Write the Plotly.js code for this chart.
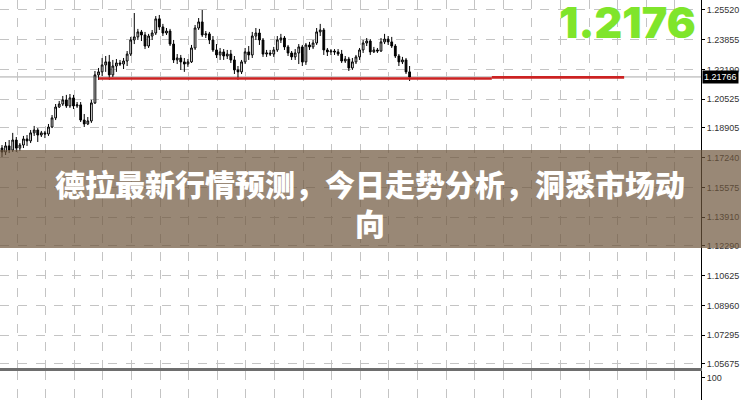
<!DOCTYPE html>
<html>
<head>
<meta charset="utf-8">
<script src="https://cdn.plot.ly/plotly-3.0.1.min.js"></script>
<style>html,body{margin:0;padding:0;background:#fff;}#chart{width:741px;height:400px;}</style>
</head>
<body>
<div id="chart"></div>
<script>
// ---- data ----
const open = [1.1778,1.1756,1.1790,1.1767,1.1823,1.1778,1.1795,1.1829,1.1818,1.1863,
1.1879,1.1851,1.1863,1.1857,1.1896,1.1947,1.2008,1.2025,1.2048,1.2014,
1.2059,1.2014,1.2020,1.1935,1.1913,1.1930,1.2031,1.2188,1.2205,1.2244,
1.2261,1.2188,1.2238,1.2255,1.2249,1.2266,1.2305,1.2384,1.2401,1.2429,
1.2412,1.2350,1.2406,1.2423,1.2502,1.2457,1.2423,1.2434,1.2361,1.2272,
1.2283,1.2261,1.2249,1.2261,1.2339,1.2451,1.2485,1.2412,1.2418,1.2384,
1.2328,1.2300,1.2317,1.2294,1.2305,1.2272,1.2216,1.2205,1.2261,1.2317,
1.2300,1.2406,1.2423,1.2384,1.2305,1.2311,1.2305,1.2328,1.2384,1.2395,
1.2345,1.2311,1.2289,1.2311,1.2345,1.2261,1.2356,1.2345,1.2367,1.2429,
1.2440,1.2328,1.2317,1.2322,1.2317,1.2305,1.2266,1.2277,1.2227,1.2261,
1.2289,1.2328,1.2367,1.2378,1.2317,1.2328,1.2322,1.2373,1.2389,1.2373,
1.2350,1.2294,1.2261,1.2272,1.2205];
const high = [1.1795,1.1812,1.1823,1.1863,1.1840,1.1806,1.1846,1.1851,1.1879,1.1902,
1.1890,1.1874,1.1874,1.1913,1.1963,1.2025,1.2042,1.2070,1.2076,1.2081,
1.2076,1.2036,1.2036,1.1969,1.1952,1.2048,1.2210,1.2227,1.2283,1.2294,
1.2300,1.2272,1.2277,1.2272,1.2283,1.2322,1.2401,1.2535,1.2446,1.2440,
1.2429,1.2418,1.2440,1.2518,1.2524,1.2474,1.2451,1.2446,1.2384,1.2305,
1.2300,1.2283,1.2277,1.2356,1.2468,1.2507,1.2552,1.2434,1.2429,1.2406,
1.2361,1.2339,1.2333,1.2328,1.2328,1.2294,1.2238,1.2272,1.2339,1.2350,
1.2429,1.2451,1.2446,1.2395,1.2328,1.2328,1.2345,1.2406,1.2418,1.2406,
1.2356,1.2322,1.2333,1.2361,1.2356,1.2367,1.2373,1.2384,1.2451,1.2474,
1.2451,1.2339,1.2333,1.2333,1.2333,1.2328,1.2294,1.2289,1.2283,1.2300,
1.2339,1.2384,1.2395,1.2389,1.2345,1.2339,1.2395,1.2418,1.2406,1.2401,
1.2361,1.2305,1.2289,1.2283,1.2238];
const low = [1.1728,1.1739,1.1750,1.1756,1.1756,1.1762,1.1778,1.1790,1.1806,1.1846,
1.1812,1.1840,1.1834,1.1846,1.1890,1.1935,1.2003,1.2014,1.2003,1.2003,
1.1997,1.2003,1.1924,1.1896,1.1907,1.1919,1.2025,1.2160,1.2182,1.2205,
1.2160,1.2176,1.2205,1.2238,1.2221,1.2238,1.2294,1.2361,1.2384,1.2378,
1.2333,1.2339,1.2384,1.2412,1.2440,1.2406,1.2412,1.2350,1.2255,1.2249,
1.2216,1.2205,1.2233,1.2255,1.2328,1.2440,1.2401,1.2395,1.2361,1.2317,
1.2283,1.2272,1.2272,1.2277,1.2255,1.2193,1.2160,1.2193,1.2249,1.2272,
1.2283,1.2384,1.2356,1.2289,1.2289,1.2294,1.2289,1.2317,1.2367,1.2328,
1.2294,1.2272,1.2272,1.2249,1.2238,1.2244,1.2328,1.2333,1.2356,1.2406,
1.2300,1.2294,1.2300,1.2300,1.2294,1.2255,1.2255,1.2210,1.2216,1.2249,
1.2272,1.2311,1.2350,1.2300,1.2311,1.2311,1.2317,1.2361,1.2356,1.2339,
1.2283,1.2238,1.2249,1.2193,1.2154];
const close = [1.1756,1.1790,1.1767,1.1823,1.1778,1.1795,1.1829,1.1818,1.1863,1.1879,
1.1851,1.1863,1.1857,1.1896,1.1947,1.2008,1.2025,1.2048,1.2014,1.2059,
1.2014,1.2020,1.1935,1.1913,1.1930,1.2031,1.2188,1.2205,1.2244,1.2261,
1.2188,1.2238,1.2255,1.2249,1.2266,1.2305,1.2384,1.2401,1.2429,1.2412,
1.2350,1.2406,1.2423,1.2502,1.2457,1.2423,1.2434,1.2361,1.2272,1.2283,
1.2261,1.2249,1.2261,1.2339,1.2451,1.2485,1.2412,1.2418,1.2384,1.2328,
1.2300,1.2317,1.2294,1.2305,1.2272,1.2216,1.2205,1.2261,1.2317,1.2300,
1.2406,1.2423,1.2384,1.2305,1.2311,1.2305,1.2328,1.2384,1.2395,1.2345,
1.2311,1.2289,1.2311,1.2345,1.2261,1.2356,1.2345,1.2367,1.2429,1.2440,
1.2328,1.2317,1.2322,1.2317,1.2305,1.2266,1.2277,1.2227,1.2261,1.2289,
1.2328,1.2367,1.2378,1.2317,1.2328,1.2322,1.2373,1.2389,1.2373,1.2350,
1.2294,1.2261,1.2272,1.2205,1.2176];

// support / resistance level (bar index, price)
const levelX = [27, 137, null, 137, 174];
const levelY = [1.2168, 1.2168, null, 1.2174, 1.2174];

const currentPrice = 1.21766;
const bigPriceText = "1.2176";
const yTickVals = [1.25520,1.23855,1.22190,1.20525,1.18905,1.17240,1.15575,1.13910,1.12290,1.10625,1.08960,1.07295,1.05675];
const yTickText = ["1.25520","1.23855","1.22190","1.20525","1.18905","1.17240","1.15575","1.13910","1.12290","1.10625","1.08960","1.07295","1.05675"];
const subTickVals = [100];
const subTickText = ["100"];
const titleText = "德拉最新行情预测，今日走势分析，洞悉市场动<br>向";

const bars = open.map((_, i) => i);

const candles = {
  type: 'candlestick',
  x: bars, open: open, high: high, low: low, close: close,
  xaxis: 'x', yaxis: 'y',
  increasing: {line: {color: '#000000', width: 1}, fillcolor: '#ffffff'},
  decreasing: {line: {color: '#000000', width: 1}, fillcolor: '#000000'},
  whiskerwidth: 0,
  hoverinfo: 'skip',
  showlegend: false
};

const level = {
  type: 'scatter', mode: 'lines',
  x: levelX, y: levelY,
  xaxis: 'x', yaxis: 'y',
  line: {color: '#cc2222', width: 2.6},
  connectgaps: false,
  hoverinfo: 'skip', showlegend: false
};

const sub = {
  type: 'scatter', mode: 'lines',
  x: [], y: [],
  xaxis: 'x2', yaxis: 'y2',
  showlegend: false, hoverinfo: 'skip'
};

const gridCol = '#c4c4c4';
const tickFont = {family: 'Liberation Sans, Arial, sans-serif', size: 9, color: '#333333'};

const layout = {
  width: 741, height: 400,
  margin: {l: 0, r: 40, t: 0, b: 0, pad: 0},
  paper_bgcolor: '#ffffff', plot_bgcolor: '#ffffff',
  showlegend: false,
  xaxis: {
    domain: [0, 1], anchor: 'y',
    range: [-0.56, 195.5],
    rangeslider: {visible: false},
    showticklabels: false, ticks: '',
    showgrid: true, gridcolor: gridCol, griddash: 'dash', gridwidth: 1,
    tick0: 4.2, dtick: 8,
    zeroline: false,
    showline: true, linecolor: '#6e6e6e', linewidth: 3
  },
  yaxis: {
    domain: [0.08, 1], anchor: 'x',
    range: [1.0545, 1.2608],
    side: 'right',
    tickmode: 'array', tickvals: yTickVals, ticktext: yTickText,
    ticks: 'outside', ticklen: 3, tickcolor: '#000000',
    tickfont: tickFont,
    showgrid: true, gridcolor: gridCol, griddash: 'dash', gridwidth: 1,
    zeroline: false,
    showline: true, linecolor: '#000000', linewidth: 1
  },
  xaxis2: {
    domain: [0, 1], anchor: 'y2', matches: 'x',
    showticklabels: false, ticks: '',
    showgrid: true, gridcolor: gridCol, griddash: 'dash', gridwidth: 1,
    tick0: 4.2, dtick: 8, zeroline: false, showline: false
  },
  yaxis2: {
    domain: [0, 0.0725], anchor: 'x2',
    range: [0, 130],
    side: 'right',
    tickmode: 'array', tickvals: subTickVals, ticktext: subTickText,
    ticks: 'outside', ticklen: 3, tickcolor: '#000000',
    tickfont: tickFont,
    showgrid: false, zeroline: false,
    showline: true, linecolor: '#000000', linewidth: 1
  },
  shapes: [
    {type: 'line', xref: 'paper', yref: 'y', x0: 0, x1: 1, y0: currentPrice, y1: currentPrice,
     line: {color: '#a8a8a8', width: 1}, layer: 'below'},
    {type: 'rect', xref: 'paper', yref: 'paper', x0: -0.01, x1: 1.06, y0: 0.38, y1: 0.625,
     fillcolor: 'rgba(110,85,60,0.7)', line: {width: 0}, layer: 'above'}
  ],
  annotations: [
    {xref: 'paper', yref: 'y', x: 1, y: currentPrice, xanchor: 'left', yanchor: 'middle',
     xshift: 1, text: currentPrice.toFixed(5), showarrow: false,
     bgcolor: '#000000', borderpad: 1,
     font: {family: 'Liberation Sans, Arial, sans-serif', size: 9, color: '#ffffff'}},
    {xref: 'paper', yref: 'paper', x: 0.9957, y: 0.945, xanchor: 'right', yanchor: 'middle',
     text: bigPriceText, showarrow: false,
     font: {family: 'Inter, Roboto, sans-serif', size: 43, color: '#7fe52b', weight: 900}},
    {xref: 'paper', yref: 'paper', x: 0.5278, y: 0.495, xanchor: 'center', yanchor: 'middle',
     text: titleText, showarrow: false, align: 'center',
     font: {family: 'Noto Sans CJK SC, sans-serif', size: 30, color: '#ffffff', weight: 900}}
  ]
};

Plotly.newPlot('chart', [candles, level, sub], layout, {staticPlot: true, displayModeBar: false});
</script>
</body>
</html>
